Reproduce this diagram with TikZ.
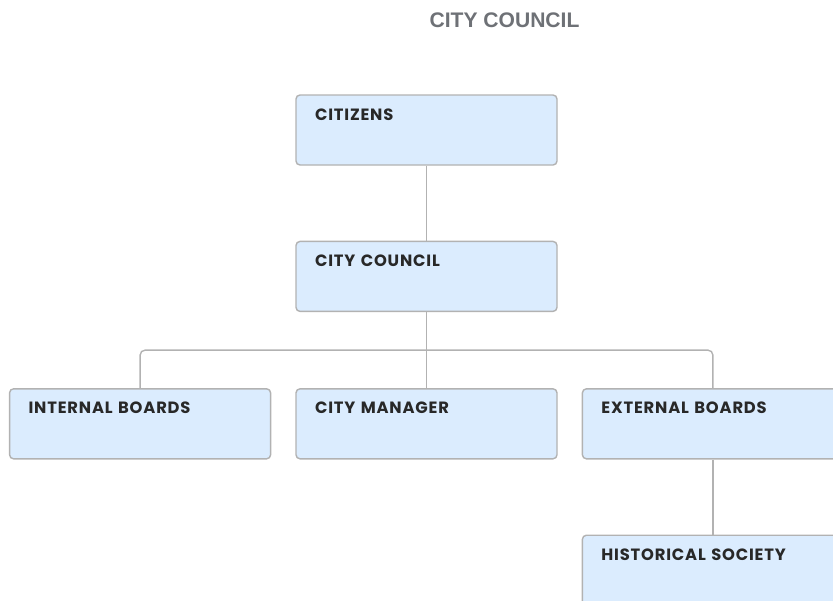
\documentclass[tikz,border=0pt]{standalone}
\usepackage{fontspec}
\setmainfont{Poppins}[LetterSpace=5]
\newfontfamily\titlefont{Liberation Sans}
\usetikzlibrary{positioning}

\definecolor{boxfill}{RGB}{219,236,254}
\definecolor{boxline}{RGB}{178,178,178}
\definecolor{wire}{RGB}{178,178,178}
\definecolor{titlegray}{RGB}{110,113,118}
\definecolor{boxtext}{RGB}{40,40,40}

\begin{document}
\begin{tikzpicture}[
    font=\fontsize{9.3}{10}\selectfont\bfseries,
    node distance=1.5cm and 0.48cm,
    unit/.style={
        rectangle, draw=boxline, line width=0.8pt, fill=boxfill,
        rounded corners=0.08cm,
        minimum width=5.22cm, minimum height=1.4cm,
        text width=4.46cm, inner xsep=0.38cm, inner ysep=0pt,
        text height=0.5cm, text depth=0.9cm,
        align=left, text=boxtext
    },
    link/.style={draw=wire, line width=0.8pt, rounded corners=0.1cm}
]

%% ─── CANVAS ─────────────────────────────────────────────────────────────

\useasboundingbox (0,0) rectangle (16.66,-12);
\clip (0,0) rectangle (16.66,-12);

%% ─── TITLE ──────────────────────────────────────────────────────────────

\node[font=\titlefont\fontsize{12}{14}\selectfont\bfseries, text=titlegray]
    (title) at (10.09,-0.4) {CITY COUNCIL};

%% ─── TOP LEVELS ─────────────────────────────────────────────────────────

\node[unit]                        (citizens) at (8.53,-2.6) {CITIZENS};
\node[unit, below=of citizens]     (council)  {CITY COUNCIL};

%% ─── THIRD ROW ──────────────────────────────────────────────────────────

\node[unit, below=1.52cm of council] (manager)  {CITY MANAGER};
\node[unit, left=of manager]         (internal) {INTERNAL BOARDS};
\node[unit, right=of manager]        (external) {EXTERNAL BOARDS};

%% ─── FOURTH ROW ─────────────────────────────────────────────────────────

\node[unit, below=of external]     (historical) {HISTORICAL SOCIETY};

%% ─── CONNECTORS ─────────────────────────────────────────────────────────

\coordinate[below=0.76cm of council] (bus);

\draw[link] (citizens) -- (council);
\draw[link] (council)  -- (manager);
\draw[link] (internal.north) |- (bus) -| (external.north);
\draw[link] (external) -- (historical);

\end{tikzpicture}
\end{document}
